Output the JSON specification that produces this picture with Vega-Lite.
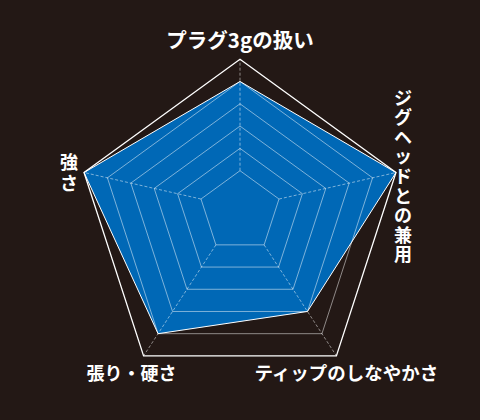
{
  "$schema": "https://vega.github.io/schema/vega-lite/v6.json",
  "width": 480,
  "height": 420,
  "autosize": {"type": "fit", "contains": "padding"},
  "padding": 0,
  "background": "#231815",
  "config": {
    "view": {"stroke": null},
    "text": {"font": "Noto Sans CJK JP", "fontWeight": "bold", "fill": "#ffffff", "fontSize": 18}
  },
  "datasets": {
    "axes": [
      {"k": 0, "axis": "プラグ3gの扱い", "value": 5},
      {"k": 1, "axis": "ジグヘッドとの兼用", "value": 6},
      {"k": 2, "axis": "ティップのしなやかさ", "value": 4},
      {"k": 3, "axis": "張り・硬さ", "value": 5},
      {"k": 4, "axis": "強さ", "value": 6}
    ],
    "grid": [
      {"level": 1, "k": 0}, {"level": 1, "k": 1}, {"level": 1, "k": 2}, {"level": 1, "k": 3}, {"level": 1, "k": 4},
      {"level": 2, "k": 0}, {"level": 2, "k": 1}, {"level": 2, "k": 2}, {"level": 2, "k": 3}, {"level": 2, "k": 4},
      {"level": 3, "k": 0}, {"level": 3, "k": 1}, {"level": 3, "k": 2}, {"level": 3, "k": 3}, {"level": 3, "k": 4},
      {"level": 4, "k": 0}, {"level": 4, "k": 1}, {"level": 4, "k": 2}, {"level": 4, "k": 3}, {"level": 4, "k": 4},
      {"level": 5, "k": 0}, {"level": 5, "k": 1}, {"level": 5, "k": 2}, {"level": 5, "k": 3}, {"level": 5, "k": 4},
      {"level": 6, "k": 0}, {"level": 6, "k": 1}, {"level": 6, "k": 2}, {"level": 6, "k": 3}, {"level": 6, "k": 4}
    ]
  },
  "encoding": {
    "x": {
      "field": "X",
      "type": "quantitative",
      "scale": {"domain": [-9.756, 9.756], "nice": false, "zero": false},
      "axis": null
    },
    "y": {
      "field": "Y",
      "type": "quantitative",
      "scale": {"domain": [-8.512, 8.561], "nice": false, "zero": false, "reverse": true},
      "axis": null
    }
  },
  "layer": [
    {
      "data": {"name": "axes"},
      "transform": [
        {"calculate": "datum.value + 0.667", "as": "R"},
        {"calculate": "datum.R * sin(datum.k * 2 * PI / 5)", "as": "X"},
        {"calculate": "0.0935 * datum.value - datum.R * cos(datum.k * 2 * PI / 5)", "as": "Y"}
      ],
      "mark": {"type": "line", "interpolate": "linear-closed", "fill": "#0068b6", "stroke": "#ffffff", "strokeWidth": 1},
      "encoding": {"order": {"field": "k"}}
    },
    {
      "data": {"name": "grid"},
      "transform": [
        {"filter": "datum.level < 6"},
        {"calculate": "datum.level + 0.667", "as": "R"},
        {"calculate": "datum.R * sin(datum.k * 2 * PI / 5)", "as": "X"},
        {"calculate": "0.0935 * datum.level - datum.R * cos(datum.k * 2 * PI / 5)", "as": "Y"}
      ],
      "mark": {"type": "line", "interpolate": "linear-closed", "stroke": "#ffffff", "strokeOpacity": 0.55, "strokeWidth": 0.9},
      "encoding": {"detail": {"field": "level"}, "order": {"field": "k"}}
    },
    {
      "data": {"name": "grid"},
      "transform": [
        {"filter": "datum.level == 1 || datum.level == 6"},
        {"calculate": "datum.level + 0.667", "as": "R"},
        {"calculate": "datum.R * sin(datum.k * 2 * PI / 5)", "as": "X"},
        {"calculate": "0.0935 * datum.level - datum.R * cos(datum.k * 2 * PI / 5)", "as": "Y"}
      ],
      "mark": {"type": "line", "stroke": "#ffffff", "strokeOpacity": 0.55, "strokeWidth": 0.9, "strokeDash": [3, 2]},
      "encoding": {"detail": {"field": "k"}, "order": {"field": "level"}}
    },
    {
      "data": {"name": "grid"},
      "transform": [
        {"filter": "datum.level == 6"},
        {"calculate": "datum.level + 0.667", "as": "R"},
        {"calculate": "datum.R * sin(datum.k * 2 * PI / 5)", "as": "X"},
        {"calculate": "0.0935 * datum.level - datum.R * cos(datum.k * 2 * PI / 5)", "as": "Y"}
      ],
      "mark": {"type": "line", "interpolate": "linear-closed", "stroke": "#ffffff", "strokeWidth": 1.3},
      "encoding": {"order": {"field": "k"}}
    },
    {
      "data": {"name": "axes"},
      "transform": [
        {"filter": "datum.k == 0"},
        {"calculate": "6.667 * sin(datum.k * 2 * PI / 5)", "as": "X"},
        {"calculate": "0.561 - 6.667 * cos(datum.k * 2 * PI / 5)", "as": "Y"}
      ],
      "mark": {"type": "text", "align": "center", "baseline": "middle", "dy": -17, "fontSize": 20.5},
      "encoding": {"text": {"field": "axis"}}
    },
    {
      "data": {"name": "axes"},
      "transform": [
        {"filter": "datum.k == 1"},
        {"calculate": "6.667 * sin(datum.k * 2 * PI / 5)", "as": "X"},
        {"calculate": "0.561 - 6.667 * cos(datum.k * 2 * PI / 5)", "as": "Y"},
        {"calculate": "split(datum.axis, '')", "as": "chars"}
      ],
      "mark": {"type": "text", "align": "center", "baseline": "middle", "dx": 7, "dy": -73, "lineHeight": 19.6},
      "encoding": {"text": {"field": "chars"}}
    },
    {
      "data": {"name": "axes"},
      "transform": [
        {"filter": "datum.k == 2"},
        {"calculate": "6.667 * sin(datum.k * 2 * PI / 5)", "as": "X"},
        {"calculate": "0.561 - 6.667 * cos(datum.k * 2 * PI / 5)", "as": "Y"}
      ],
      "mark": {"type": "text", "align": "center", "baseline": "middle", "dx": 10, "dy": 18, "fontSize": 18.5},
      "encoding": {"text": {"field": "axis"}}
    },
    {
      "data": {"name": "axes"},
      "transform": [
        {"filter": "datum.k == 3"},
        {"calculate": "6.667 * sin(datum.k * 2 * PI / 5)", "as": "X"},
        {"calculate": "0.561 - 6.667 * cos(datum.k * 2 * PI / 5)", "as": "Y"}
      ],
      "mark": {"type": "text", "align": "center", "baseline": "middle", "dx": -12, "dy": 19},
      "encoding": {"text": {"field": "axis"}}
    },
    {
      "data": {"name": "axes"},
      "transform": [
        {"filter": "datum.k == 4"},
        {"calculate": "6.667 * sin(datum.k * 2 * PI / 5)", "as": "X"},
        {"calculate": "0.561 - 6.667 * cos(datum.k * 2 * PI / 5)", "as": "Y"},
        {"calculate": "split(datum.axis, '')", "as": "chars"}
      ],
      "mark": {"type": "text", "align": "center", "baseline": "middle", "dx": -15, "dy": -9, "lineHeight": 21},
      "encoding": {"text": {"field": "chars"}}
    }
  ]
}
